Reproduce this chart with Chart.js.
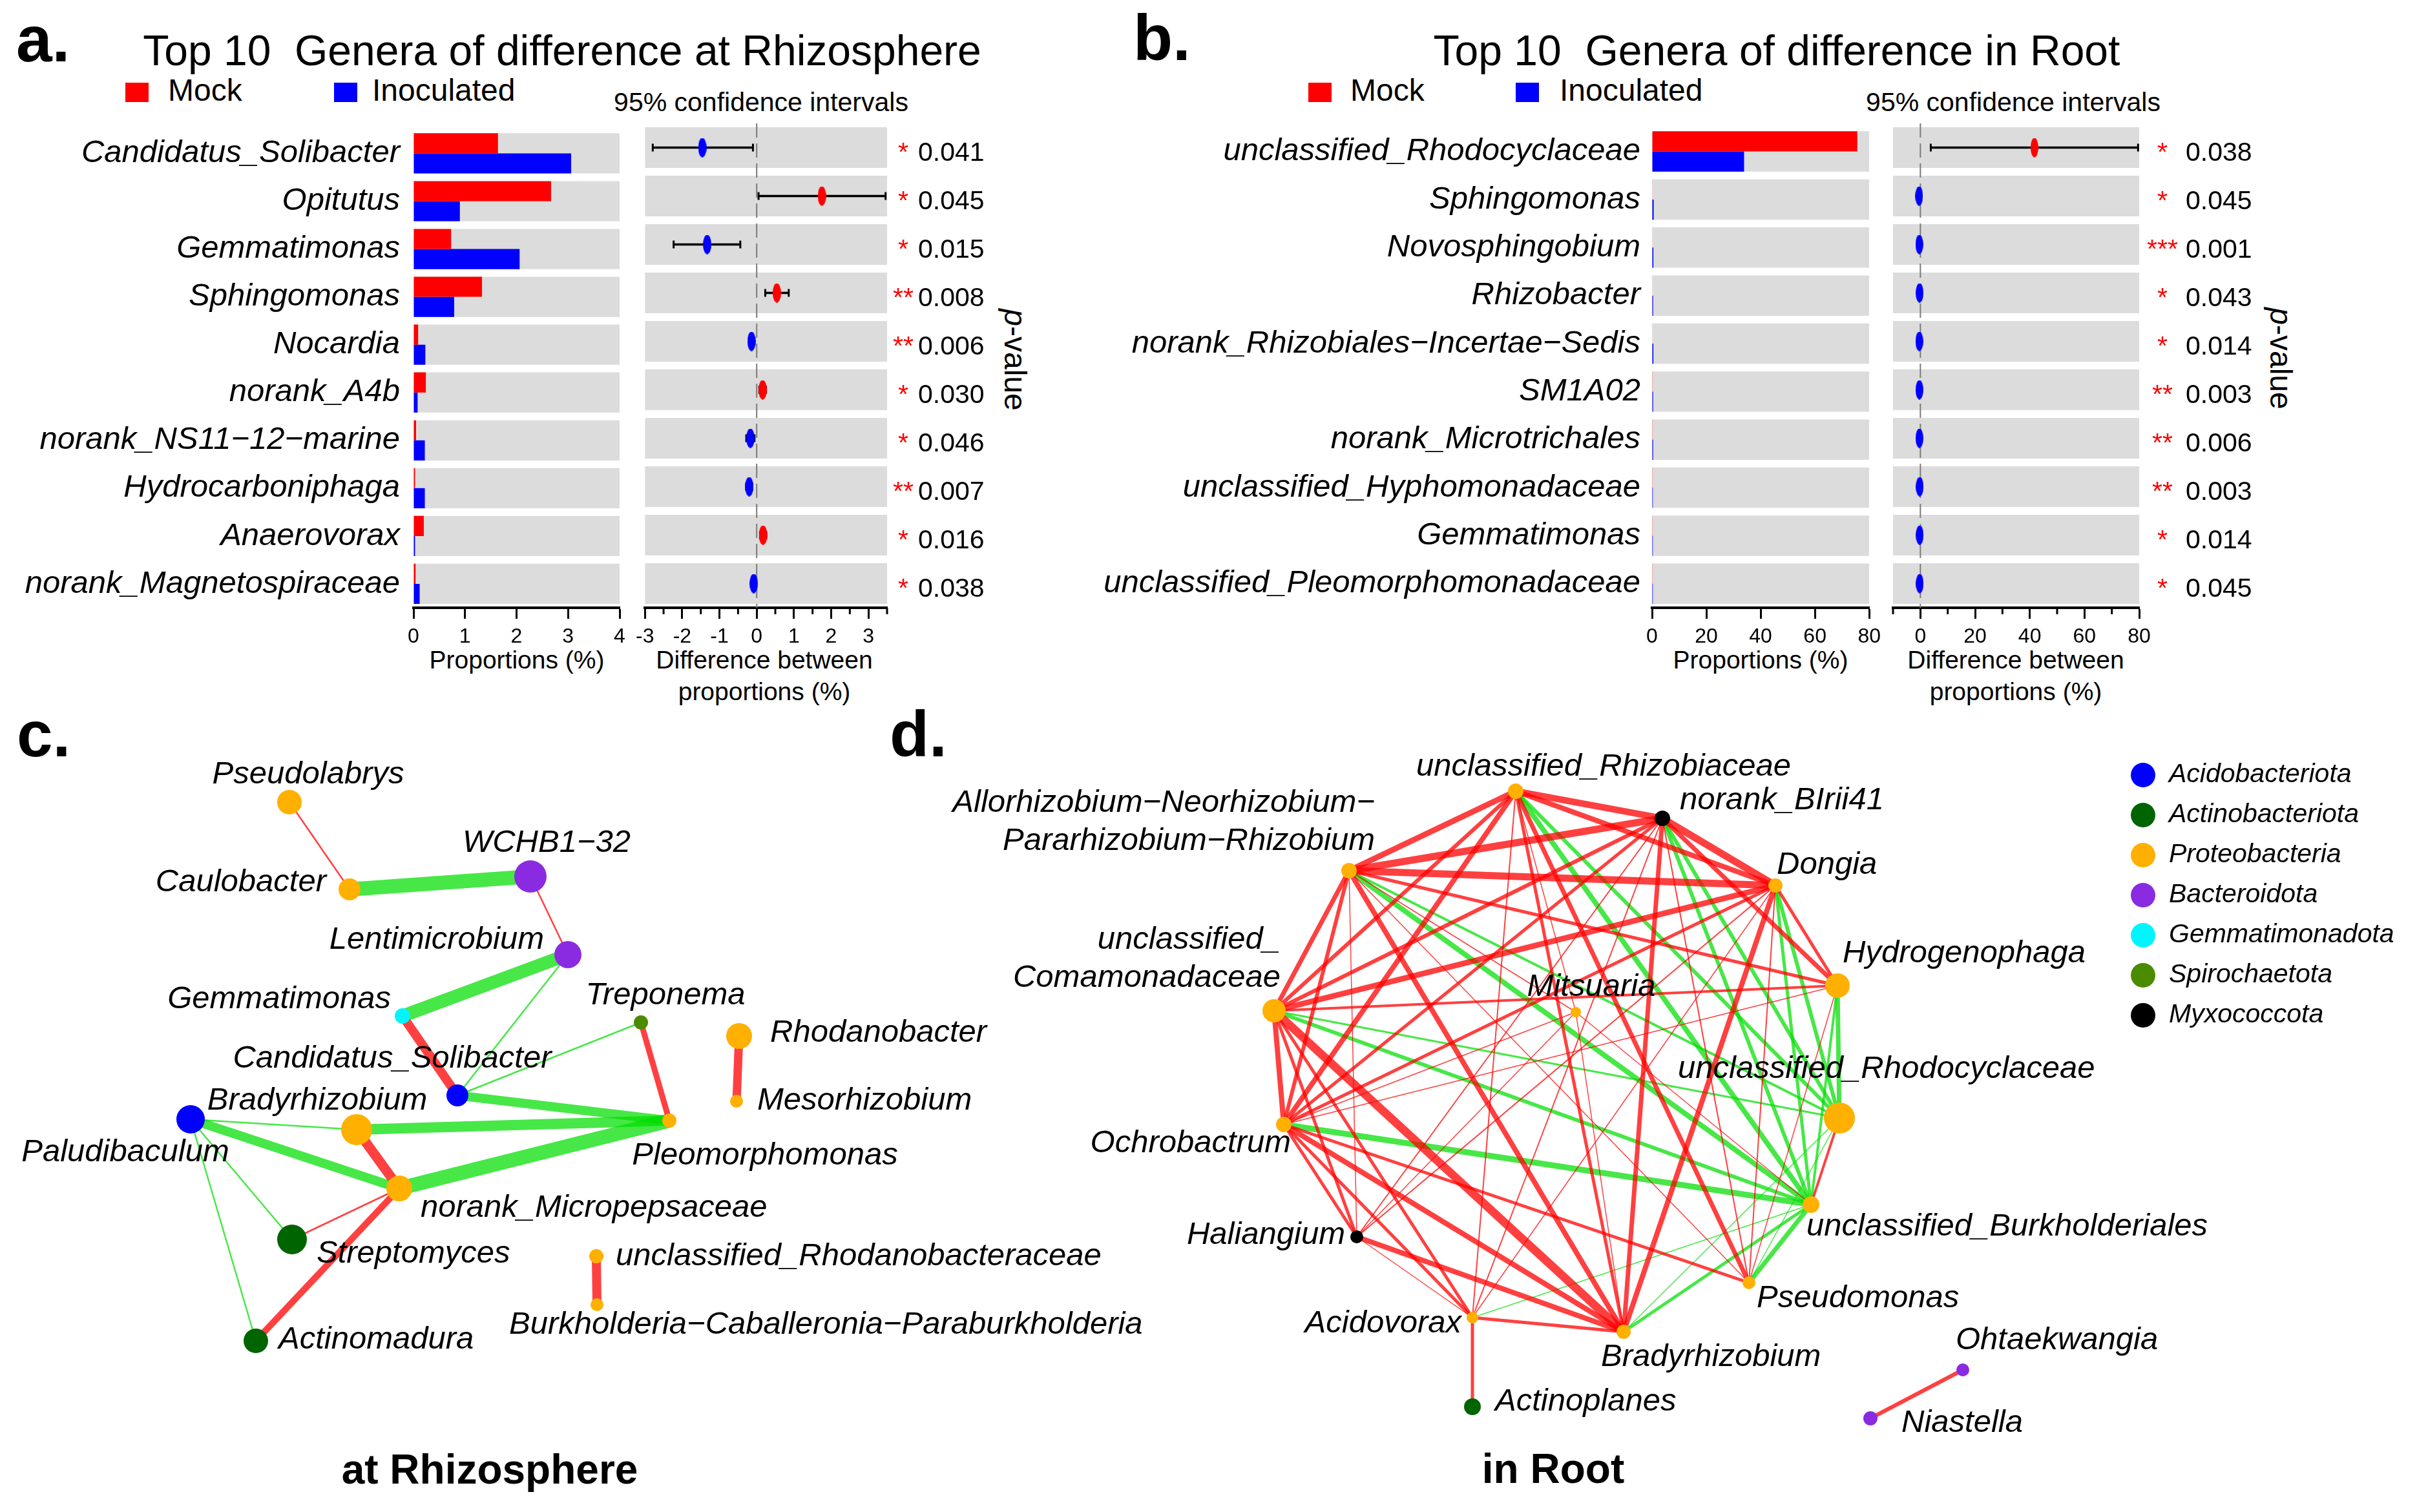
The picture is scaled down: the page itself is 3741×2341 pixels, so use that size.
<!DOCTYPE html>
<html>
<head>
<meta charset="utf-8">
<title>Top 10 genera of difference and co-occurrence networks</title>
<script src="https://cdn.jsdelivr.net/npm/chart.js@4.4.1/dist/chart.umd.min.js"></script>
<style>
html, body { margin: 0; padding: 0; background: #fff; }
body { position: relative; width: 3741px; height: 2341px; overflow: hidden; font-family: "Liberation Sans", Arial, sans-serif; color: #000; }
canvas { position: absolute; }
.txt { position: absolute; white-space: nowrap; line-height: 1; }
.mid { transform: translate(-50%, -50%); }
.lft { transform: translate(0, -50%); }
.key { position: absolute; width: 36px; height: 30px; }
.tag { font-weight: bold; font-size: 100px; }
.rot { transform: translate(-50%, -50%) rotate(90deg); font-size: 48px; }
</style>
</head>
<body>
<div class="txt tag" style="left:25px; top:10px">a.</div>
<div class="txt tag" style="left:1754px; top:8px">b.</div>
<div class="txt tag" style="left:26px; top:1086px">c.</div>
<div class="txt tag" style="left:1377px; top:1086px">d.</div>

<div class="txt mid" style="left:870px; top:78px; font-size:66px">Top 10&nbsp; Genera of difference at Rhizosphere</div>
<div class="txt mid" style="left:2750px; top:78px; font-size:66px">Top 10&nbsp; Genera of difference in Root</div>

<div class="key" style="left:194px; top:128px; background:#ff0000"></div>
<div class="txt lft" style="left:260px; top:140px; font-size:48px">Mock</div>
<div class="key" style="left:517px; top:128px; background:#0000ff"></div>
<div class="txt lft" style="left:576px; top:140px; font-size:48px">Inoculated</div>
<div class="key" style="left:2025px; top:128px; background:#ff0000"></div>
<div class="txt lft" style="left:2090px; top:140px; font-size:48px">Mock</div>
<div class="key" style="left:2346px; top:128px; background:#0000ff"></div>
<div class="txt lft" style="left:2414px; top:140px; font-size:48px">Inoculated</div>

<div class="txt mid" style="left:1178px; top:158px; font-size:41px">95% confidence intervals</div>
<div class="txt mid" style="left:3116px; top:158px; font-size:41px">95% confidence intervals</div>

<div class="txt mid" style="left:800px; top:1021px; font-size:39px">Proportions (%)</div>
<div class="txt mid" style="left:1183px; top:1021px; font-size:39px">Difference between</div>
<div class="txt mid" style="left:1183px; top:1070px; font-size:39px">proportions (%)</div>
<div class="txt mid" style="left:2725px; top:1021px; font-size:39px">Proportions (%)</div>
<div class="txt mid" style="left:3120px; top:1021px; font-size:39px">Difference between</div>
<div class="txt mid" style="left:3120px; top:1070px; font-size:39px">proportions (%)</div>

<div class="txt rot" style="left:1571px; top:557px"><i>p</i>-value</div>
<div class="txt rot" style="left:3530px; top:555px"><i>p</i>-value</div>

<div class="txt mid" style="left:758px; top:2275px; font-size:64px; font-weight:bold">at Rhizosphere</div>
<div class="txt mid" style="left:2404px; top:2274px; font-size:64px; font-weight:bold">in Root</div>

<script>
// ---- panel a: rhizosphere ----
const rhizoGenera = ['Candidatus_Solibacter', 'Opitutus', 'Gemmatimonas', 'Sphingomonas', 'Nocardia',
  'norank_A4b', 'norank_NS11−12−marine', 'Hydrocarboniphaga', 'Anaerovorax', 'norank_Magnetospiraceae'];
const rhizoMock = [1.64, 2.67, 0.73, 1.33, 0.09, 0.24, 0.05, 0.03, 0.20, 0.04];
const rhizoInoc = [3.06, 0.90, 2.06, 0.79, 0.23, 0.08, 0.22, 0.22, 0.03, 0.12];
const rhizoDiff = [-1.46, 1.75, -1.33, 0.54, -0.14, 0.16, -0.17, -0.20, 0.17, -0.08];
const rhizoLow = [-2.79, 0.05, -2.23, 0.23, -0.20, 0.07, -0.28, -0.28, 0.09, -0.13];
const rhizoHigh = [-0.10, 3.46, -0.44, 0.86, -0.08, 0.25, -0.06, -0.12, 0.25, -0.03];
const rhizoP = ['0.041', '0.045', '0.015', '0.008', '0.006', '0.030', '0.046', '0.007', '0.016', '0.038'];
const rhizoStars = ['*', '*', '*', '**', '**', '*', '*', '**', '*', '*'];
const rhizoPropTicks = [0, 1, 2, 3, 4];
const rhizoDiffTicks = [-3, -2, -1, 0, 1, 2, 3];

// ---- panel b: root ----
const rootGenera = ['unclassified_Rhodocyclaceae', 'Sphingomonas', 'Novosphingobium', 'Rhizobacter',
  'norank_Rhizobiales−Incertae−Sedis', 'SM1A02', 'norank_Microtrichales', 'unclassified_Hyphomonadaceae',
  'Gemmatimonas', 'unclassified_Pleomorphomonadaceae'];
const rootMock = [75.6, 0.15, 0.10, 0.10, 0.10, 0.05, 0.05, 0.05, 0.05, 0.05];
const rootInoc = [33.9, 0.60, 0.50, 0.40, 0.50, 0.40, 0.40, 0.30, 0.30, 0.30];
const rootDiff = [41.7, -0.45, -0.40, -0.30, -0.40, -0.35, -0.35, -0.25, -0.25, -0.25];
const rootLow = [3.8, -0.8, -0.7, -0.5, -0.7, -0.6, -0.6, -0.45, -0.45, -0.45];
const rootHigh = [79.6, -0.1, -0.1, -0.1, -0.1, -0.1, -0.1, -0.05, -0.05, -0.05];
const rootP = ['0.038', '0.045', '0.001', '0.043', '0.014', '0.003', '0.006', '0.003', '0.014', '0.045'];
const rootStars = ['*', '*', '***', '*', '*', '**', '**', '**', '*', '*'];
const rootPropTicks = [0, 20, 40, 60, 80];
const rootDiffTicks = [0, 20, 40, 60, 80];

// ---- networks ----
const phyla = ['Acidobacteriota', 'Actinobacteriota', 'Proteobacteria', 'Bacteroidota',
  'Gemmatimonadota', 'Spirochaetota', 'Myxococcota'];

const rhizoNodes = ['Pseudolabrys', 'Caulobacter', 'WCHB1−32', 'Lentimicrobium', 'Gemmatimonas', 'Treponema',
  'Candidatus_Solibacter', 'Rhodanobacter', 'Mesorhizobium', 'Bradyrhizobium', 'Paludibaculum',
  'Pleomorphomonas', 'norank_Micropepsaceae', 'Streptomyces', 'Actinomadura',
  'unclassified_Rhodanobacteraceae', 'Burkholderia−Caballeronia−Paraburkholderia'];
const rhizoNodePhylum = [2, 2, 3, 3, 4, 5, 0, 2, 2, 2, 0, 2, 2, 1, 1, 2, 2];
const rhizoNodeX = [44.8, 54.1, 82.1, 87.9, 62.3, 99.2, 70.8, 114.4, 114.0, 55.2, 29.5, 103.6, 61.8, 45.2, 39.6, 92.3, 92.4];
const rhizoNodeY = [14.2, 27.7, 25.7, 37.8, 47.3, 48.3, 59.6, 50.4, 60.5, 64.9, 63.3, 63.5, 74.0, 81.9, 97.6, 84.5, 92.0];
const rhizoNodeSize = [19, 17, 25, 21, 12, 11, 17, 20, 10, 24, 22, 11, 20, 23, 19, 11, 10];
// [from, to, weight]: positive = red, negative = green
const rhizoEdges = [
  [0, 1, 2.5], [1, 2, -22], [2, 3, 2.5], [3, 4, -20], [3, 6, -2.5], [4, 6, 14], [5, 6, -2.5],
  [5, 11, 9], [6, 11, -14], [7, 8, 13], [10, 9, -2.5], [10, 12, -14], [10, 13, -2.5], [10, 14, -2.5],
  [9, 11, -16], [9, 12, 15], [12, 11, -22], [12, 13, 2.5], [12, 14, 10], [15, 16, 14]
];

const rootNodes = ['unclassified_Rhizobiaceae', 'norank_BIrii41', 'Allorhizobium−Neorhizobium−Pararhizobium−Rhizobium',
  'Dongia', 'unclassified_Comamonadaceae', 'Hydrogenophaga', 'Mitsuaria', 'unclassified_Rhodocyclaceae',
  'Ochrobactrum', 'unclassified_Burkholderiales', 'Haliangium', 'Pseudomonas', 'Acidovorax',
  'Bradyrhizobium', 'Actinoplanes', 'Ohtaekwangia', 'Niastella'];
const rootNodePhylum = [2, 6, 2, 2, 2, 2, 2, 2, 2, 2, 6, 2, 2, 2, 1, 3, 3];
const rootNodeX = [100.6, 123.3, 74.8, 140.8, 63.2, 150.4, 109.9, 150.7, 64.7, 146.3, 76.0, 136.7, 93.9, 117.3, 93.9, 169.8, 155.5];
const rootNodeY = [12.5, 16.7, 24.8, 27.1, 46.5, 42.6, 46.7, 63.1, 64.1, 76.5, 81.5, 88.6, 94.0, 96.2, 107.8, 102.1, 109.6];
const rootNodeSize = [12, 12, 12, 11, 18, 19, 8, 24, 12, 13, 10, 10, 9, 11, 13, 10, 11];
const rootEdges = [
  [0, 2, 9], [0, 1, 10], [0, 3, 8], [0, 4, 6], [0, 8, 8], [0, 11, 7], [0, 13, 5], [0, 12, 2], [0, 6, 1.5],
  [2, 1, 11], [2, 3, 11], [2, 4, 7], [2, 8, 6], [2, 13, 8], [2, 10, 1.5], [2, 11, 1.5], [2, 6, 1.5], [2, 5, 5],
  [1, 3, 11], [1, 5, 7], [1, 13, 7], [1, 4, 6], [1, 8, 5], [1, 10, 2], [1, 11, 2], [1, 12, 2],
  [3, 5, 5], [3, 4, 9], [3, 8, 5], [3, 13, 8], [3, 11, 2], [3, 10, 2], [3, 12, 1.5],
  [4, 8, 8], [4, 13, 13], [4, 10, 5], [4, 12, 5], [4, 5, 4],
  [8, 10, 5], [8, 12, 5], [8, 13, 8], [8, 11, 5], [8, 5, 1.5], [8, 6, 1.5],
  [10, 13, 8], [10, 12, 1.5], [10, 6, 1.5], [12, 13, 5], [12, 14, 5],
  [5, 11, 1.5], [7, 9, 4], [6, 13, 1.5], [6, 9, 1.5], [15, 16, 6],
  [0, 7, -6], [0, 9, -8], [1, 7, -6], [1, 9, -6], [3, 7, -6], [3, 9, -5], [5, 7, -7], [5, 9, -4],
  [2, 9, -8], [2, 7, -4], [4, 7, -3], [4, 9, -6], [8, 9, -9], [9, 11, -7], [13, 9, -5], [13, 7, -1.5],
  [12, 9, -1.5], [7, 11, -1.5]
];

// ---- styles ----
const FONT = '"Liberation Sans", Arial, sans-serif';
const RED = '#ff0000', BLUE = '#0000ff', PANEL_GRAY = '#dcdcdc';
const EDGE_RED = 'rgba(255, 0, 0, 0.75)', EDGE_GREEN = 'rgba(0, 222, 0, 0.72)';
const phylumColors = ['#0000ff', '#006400', '#ffb000', '#8a2be2', '#00f5ff', '#4a8b00', '#000000'];

Chart.defaults.font.family = FONT;
Chart.defaults.color = '#000';
Chart.defaults.animation = false;
Chart.defaults.events = [];
Chart.defaults.plugins.legend.display = false;
Chart.defaults.plugins.tooltip.enabled = false;

function addCanvas(left, top, width, height) {
  const c = document.createElement('canvas');
  c.width = width;
  c.height = height;
  c.style.left = left + 'px';
  c.style.top = top + 'px';
  c.style.width = width + 'px';
  c.style.height = height + 'px';
  document.body.appendChild(c);
  return c;
}

function ellipse(color, w, h) {
  const c = document.createElement('canvas');
  c.width = w;
  c.height = h;
  const g = c.getContext('2d');
  g.fillStyle = color;
  g.beginPath();
  g.ellipse(w / 2, h / 2, w / 2, h / 2, 0, 0, 2 * Math.PI);
  g.fill();
  return c;
}

function bottomAxis(range, ticks) {
  return {
    type: 'linear', min: range[0], max: range[1],
    afterBuildTicks: s => { s.ticks = ticks.map(v => ({value: v})); },
    afterFit: s => { s.height = 89; },
    grid: {drawOnChartArea: false, tickLength: 17, tickWidth: 3, tickColor: '#000'},
    border: {color: '#000', width: 4},
    ticks: {font: {size: 32}, padding: 9, maxRotation: 0, autoSkip: false, color: '#000', callback: v => String(v)}
  };
}

function propChart(canvas, genera, mock, inoc, range, ticks, lay) {
  return new Chart(canvas, {
    type: 'bar',
    data: {
      labels: genera,
      datasets: [
        {data: mock, backgroundColor: RED, order: 1, categoryPercentage: 0.84, barPercentage: 1},
        {data: inoc, backgroundColor: BLUE, order: 2, categoryPercentage: 0.84, barPercentage: 1},
        {data: genera.map(() => [range[0], range[1]]), backgroundColor: PANEL_GRAY, grouped: false,
         order: 9, categoryPercentage: 0.84, barPercentage: 1}
      ]
    },
    options: {
      indexAxis: 'y',
      responsive: false,
      layout: {padding: lay.padding, autoPadding: false},
      scales: {
        y: {
          type: 'category', offset: true,
          afterFit: s => { s.width = lay.yWidth; },
          grid: {display: false, drawTicks: false},
          border: {display: false},
          ticks: {font: {size: 49, style: 'italic'}, padding: lay.labelPad, autoSkip: false, color: '#000'}
        },
        x: bottomAxis(range, ticks)
      }
    }
  });
}

function diffExtras(cfg) {
  return {
    id: 'diffExtras',
    afterDatasetDraw(chart, args) {
      if (args.index !== 3) return;
      const {ctx, chartArea} = chart;
      const x0 = chart.scales.x.getPixelForValue(0);
      ctx.save();
      ctx.strokeStyle = '#7a7a7a';
      ctx.lineWidth = 2;
      ctx.setLineDash([22, 9]);
      ctx.beginPath();
      ctx.moveTo(x0, chartArea.top);
      ctx.lineTo(x0, chartArea.bottom);
      ctx.stroke();
      ctx.restore();
    },
    afterDraw(chart) {
      const {ctx, chartArea} = chart;
      const xs = chart.scales.x, ys = chart.scales.y;
      ctx.save();
      // minor ticks
      ctx.strokeStyle = '#000';
      ctx.lineWidth = 3;
      for (let v = cfg.range[0]; v <= cfg.range[1] + 1e-9; v += cfg.minorStep) {
        if (cfg.major.some(m => Math.abs(m - v) < 1e-9)) continue;
        const px = xs.getPixelForValue(v);
        ctx.beginPath();
        ctx.moveTo(px, chartArea.bottom);
        ctx.lineTo(px, chartArea.bottom + 10);
        ctx.stroke();
      }
      // p-values
      ctx.font = '41px ' + FONT;
      ctx.textBaseline = 'alphabetic';
      cfg.pvals.forEach((p, i) => {
        const y = ys.getPixelForValue(i) + 20;
        ctx.fillStyle = RED;
        ctx.textAlign = 'center';
        ctx.fillText(cfg.stars[i], chartArea.right + cfg.starX, y);
        ctx.fillStyle = '#000';
        ctx.textAlign = 'left';
        ctx.fillText(p, chartArea.right + cfg.numX, y);
      });
      ctx.restore();
    }
  };
}

function diffChart(canvas, genera, diff, low, high, cfg) {
  const caps = [];
  genera.forEach((g, i) => { caps.push({x: low[i], y: g}, {x: high[i], y: g}); });
  const redDot = ellipse(RED, cfg.dotW, 30), blueDot = ellipse(BLUE, cfg.dotW, 30);
  return new Chart(canvas, {
    type: 'bar',
    data: {
      labels: genera,
      datasets: [
        {type: 'scatter', data: genera.map((g, i) => ({x: diff[i], y: g})),
         pointStyle: diff.map(v => v > 0 ? redDot : blueDot), pointRadius: 6, order: 0},
        {type: 'scatter', data: caps, pointStyle: 'line', pointRotation: 90, pointRadius: 6,
         pointBorderWidth: 3, pointBorderColor: '#000', order: 1},
        {data: genera.map((g, i) => [low[i], high[i]]), backgroundColor: '#000', grouped: false,
         barThickness: 3, order: 2},
        {data: genera.map(() => [cfg.range[0], cfg.range[1]]), backgroundColor: PANEL_GRAY, grouped: false,
         categoryPercentage: 0.84, barPercentage: 1, order: 3}
      ]
    },
    options: {
      indexAxis: 'y',
      responsive: false,
      layout: {padding: cfg.padding, autoPadding: false},
      scales: {
        y: {type: 'category', offset: true, display: false},
        x: bottomAxis(cfg.range, cfg.major)
      }
    },
    plugins: [diffExtras(cfg)]
  });
}

function nodeLabels(names, place, size, lineGap) {
  return {
    id: 'nodeLabels',
    afterDatasetsDraw(chart) {
      const ctx = chart.ctx;
      const meta = chart.getDatasetMeta(0);
      ctx.save();
      ctx.font = 'italic ' + size + 'px ' + FONT;
      ctx.fillStyle = '#000';
      ctx.textBaseline = 'middle';
      names.forEach((name, i) => {
        const [dx, dy, align, text] = place[i];
        const pt = meta.data[i];
        ctx.textAlign = align;
        (text || name).split('\n').forEach((ln, k) => ctx.fillText(ln, pt.x + dx, pt.y + dy + k * lineGap));
      });
      ctx.restore();
    }
  };
}

function phylumLegend(o) {
  return {
    id: 'phylumLegend',
    afterDraw(chart) {
      const ctx = chart.ctx;
      ctx.save();
      ctx.font = 'italic 41px ' + FONT;
      ctx.textBaseline = 'middle';
      ctx.textAlign = 'left';
      phyla.forEach((name, i) => {
        const y = o.y + i * o.step;
        ctx.fillStyle = phylumColors[i];
        ctx.beginPath();
        ctx.arc(o.x, y, o.r, 0, 2 * Math.PI);
        ctx.fill();
        ctx.fillStyle = '#000';
        ctx.fillText(name, o.x + o.gap, y);
      });
      ctx.restore();
    }
  };
}

function networkChart(canvas, names, phylum, xs, ys, sizes, edges, view, extraPlugins) {
  const edgeSets = edges.map(([a, b, w]) => ({
    type: 'scatter', showLine: true, pointRadius: 0, clip: false,
    data: [{x: xs[a], y: ys[a]}, {x: xs[b], y: ys[b]}],
    borderColor: w > 0 ? EDGE_RED : EDGE_GREEN,
    borderWidth: Math.abs(w),
    order: 2
  }));
  const nodeSet = {
    type: 'scatter', clip: false, order: 1,
    data: names.map((n, i) => ({x: xs[i], y: ys[i]})),
    pointRadius: sizes,
    pointBackgroundColor: phylum.map(p => phylumColors[p]),
    pointBorderWidth: 0
  };
  return new Chart(canvas, {
    type: 'scatter',
    data: {datasets: [nodeSet].concat(edgeSets)},
    options: {
      responsive: false,
      layout: {padding: 0, autoPadding: false},
      scales: {
        x: {type: 'linear', min: 0, max: view.w, display: false},
        y: {type: 'linear', min: 0, max: view.h, reverse: true, display: false}
      }
    },
    plugins: extraPlugins
  });
}

// ---- build ----
propChart(addCanvas(0, 150, 990, 880), rhizoGenera, rhizoMock, rhizoInoc, [0, 4], rhizoPropTicks,
  {padding: {top: 41, right: 31, bottom: 0, left: 0}, yWidth: 640, labelPad: 21});
diffChart(addCanvas(975, 150, 620, 880), rhizoGenera, rhizoDiff, rhizoLow, rhizoHigh,
  {range: [-3, 3.5], major: rhizoDiffTicks, minorStep: 0.5, pvals: rhizoP, stars: rhizoStars,
   padding: {top: 41, right: 222, bottom: 0, left: 19}, starX: 25, numX: 48, dotW: 13});

propChart(addCanvas(1660, 150, 1260, 880), rootGenera, rootMock, rootInoc, [0, 80], rootPropTicks,
  {padding: {top: 41, right: 26, bottom: 0, left: 0}, yWidth: 897, labelPad: 18});
diffChart(addCanvas(2915, 150, 640, 880), rootGenera, rootDiff, rootLow, rootHigh,
  {range: [-10, 80], major: rootDiffTicks, minorStep: 10, pvals: rootP, stars: rootStars,
   padding: {top: 41, right: 244, bottom: 0, left: 15}, starX: 36, numX: 72, dotW: 12});

const rhizoLabelPlace = [
  [29, -43, 'center'], [-36, -11, 'right'], [25, -52, 'center'], [-37, -23, 'right'],
  [-18, -26, 'right'], [38, -42, 'center'], [-101, -57, 'center'], [48, -5, 'left'],
  [32, -1, 'left'], [-61, -45, 'center'], [-101, 51, 'center'], [148, 54, 'center'],
  [33, 30, 'left'], [38, 22, 'left'], [35, -2, 'left'], [30, 0, 'left'], [-136, 31, 'left']
];
networkChart(addCanvas(0, 1100, 1830, 1240), rhizoNodes, rhizoNodePhylum, rhizoNodeX, rhizoNodeY,
  rhizoNodeSize, rhizoEdges, {w: 183, h: 124}, [nodeLabels(rhizoNodes, rhizoLabelPlace, 49, 59)]);

const rootLabelPlace = [
  [136, -38, 'center'], [27, -28, 'left'],
  [40, -105, 'right', 'Allorhizobium−Neorhizobium−\nPararhizobium−Rhizobium'],
  [2, -32, 'left'], [10, -110, 'right', 'unclassified_\nComamonadaceae'],
  [8, -50, 'left'], [24, -39, 'center'], [-250, -76, 'left'], [11, 29, 'right'],
  [-7, 34, 'left'], [-18, -3, 'right'], [12, 24, 'left'], [-17, 9, 'right'],
  [-35, 39, 'left'], [35, -8, 'left'], [-11, -46, 'left'], [48, 7, 'left']
];
networkChart(addCanvas(1340, 1100, 2401, 1240), rootNodes, rootNodePhylum, rootNodeX, rootNodeY,
  rootNodeSize, rootEdges, {w: 240.1, h: 124},
  [nodeLabels(rootNodes, rootLabelPlace, 49, 59), phylumLegend({x: 1977, y: 100, step: 62, r: 19, gap: 40})]);
</script>
</body>
</html>
